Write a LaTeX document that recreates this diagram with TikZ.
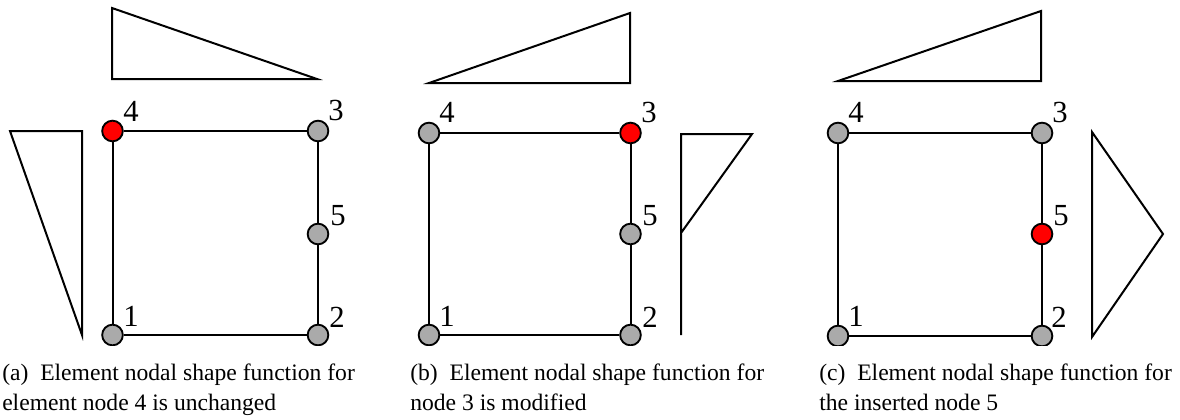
\documentclass[tikz,border=0pt]{standalone}
\usepackage{fontspec}
\setmainfont{Liberation Serif}
\definecolor{nodegray}{RGB}{170,170,170}
\tikzset{
  px/.style={x=0.75pt,y=-0.75pt},
  fem/.style={circle,draw=black,line width=1.4pt,fill=nodegray,minimum size=15.5pt,inner sep=0pt},
  femred/.style={fem,fill=red},
  femedge/.style={draw=black,line width=1.5pt},
  shapefn/.style={draw=black,line width=1.5pt,line join=miter},
  lbl/.style={font=\fontsize{23}{23}\selectfont,inner sep=0pt},
  captext/.style={font=\fontsize{17.7}{22.5}\selectfont,align=left,anchor=base west,inner sep=0pt}
}
\begin{document}
\begin{tikzpicture}[px]
\useasboundingbox (0,0) rectangle (1180,419);
\begin{scope}
\clip (0,0) rectangle (1180,345);
% ---------- panel (a)
\node[fem] (a1) at (112.5,335) {};
\node[fem] (a2) at (318,335) {};
\node[fem] (a3) at (318,131) {};
\node[femred] (a4) at (112.5,131) {};
\node[fem] (a5) at (318,234) {};
\draw[femedge] (a1) -- (a2);
\draw[femedge] (a2) -- (a5);
\draw[femedge] (a5) -- (a3);
\draw[femedge] (a3) -- (a4);
\draw[femedge] (a4) -- (a1);
\node[lbl] (a1l) at (131,316) {1};
\node[lbl] (a2l) at (337,317) {2};
\node[lbl] (a3l) at (336,110) {3};
\node[lbl] (a4l) at (131,111) {4};
\node[lbl] (a5l) at (338,216) {5};
\draw[shapefn] (112,8) -- (112,79) -- (317,79) -- cycle;
\draw[shapefn] (10,131) -- (82,131) -- (82,335) -- cycle;
% ---------- panel (b)
\node[fem] (b1) at (429,335) {};
\node[fem] (b2) at (630.5,335) {};
\node[femred] (b3) at (630.5,133) {};
\node[fem] (b4) at (429,133) {};
\node[fem] (b5) at (630.5,234) {};
\draw[femedge] (b1) -- (b2);
\draw[femedge] (b2) -- (b5);
\draw[femedge] (b5) -- (b3);
\draw[femedge] (b3) -- (b4);
\draw[femedge] (b4) -- (b1);
\node[lbl] (b1l) at (447,316) {1};
\node[lbl] (b2l) at (650,317) {2};
\node[lbl] (b3l) at (649,112) {3};
\node[lbl] (b4l) at (447,112) {4};
\node[lbl] (b5l) at (650,216) {5};
\draw[shapefn] (429,83) -- (630,13) -- (630,83) -- cycle;
\draw[shapefn] (681,335) -- (681,134) -- (752,134) -- (681,233);
% ---------- panel (c)
\node[fem] (c1) at (838,336) {};
\node[fem] (c2) at (1042,336) {};
\node[fem] (c3) at (1042,133) {};
\node[fem] (c4) at (838,133) {};
\node[femred] (c5) at (1042,234) {};
\draw[femedge] (c1) -- (c2);
\draw[femedge] (c2) -- (c5);
\draw[femedge] (c5) -- (c3);
\draw[femedge] (c3) -- (c4);
\draw[femedge] (c4) -- (c1);
\node[lbl] (c1l) at (856,316) {1};
\node[lbl] (c2l) at (1059,317) {2};
\node[lbl] (c3l) at (1060,112) {3};
\node[lbl] (c4l) at (856,112) {4};
\node[lbl] (c5l) at (1061,216) {5};
\draw[shapefn] (838,81) -- (1041,11) -- (1041,81) -- cycle;
\draw[shapefn] (1092,132) -- (1163,234) -- (1092,337) -- cycle;
\end{scope}
% ---------- captions
\node[captext] (capa) at (2,410) {(a)\hspace{0.5em}Element nodal shape function for\\element node 4 is unchanged};
\node[captext] (capb) at (410,410) {(b)\hspace{0.5em}Element nodal shape function for\\node 3 is modified};
\node[captext] (capc) at (819,410) {(c)\hspace{0.5em}Element nodal shape function for\\the inserted node 5};
\end{tikzpicture}
\end{document}
